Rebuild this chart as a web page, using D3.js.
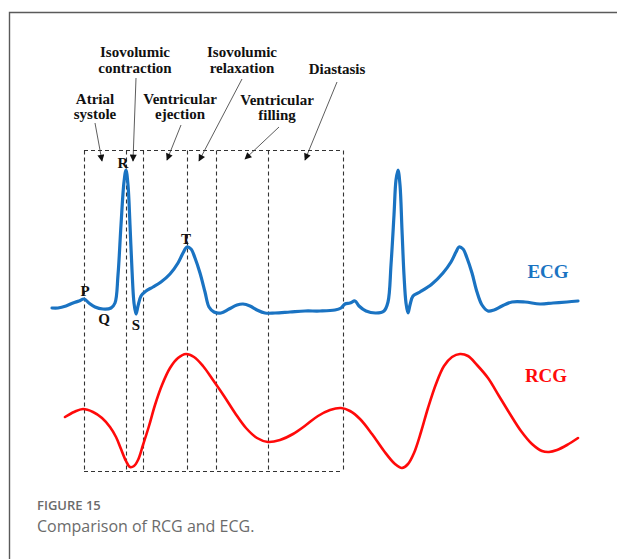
<!DOCTYPE html>
<html>
<head>
<meta charset="utf-8">
<script src="https://cdn.jsdelivr.net/npm/d3@7/dist/d3.min.js"></script>
<style>
  html, body { margin: 0; padding: 0; background: #fff; }
  svg { display: block; }
</style>
</head>
<body>
<svg id="chart" width="617" height="559"></svg>
<script>
// Time axis in ms, ECG in mV, RCG in arbitrary units
const ecgTime = [0, 18, 42, 63, 81, 96, 111, 129, 153, 177, 189, 198, 207, 216, 222, 228, 234, 240, 246, 252,
  258, 267, 282, 303, 327, 354, 378, 393, 405, 417, 429, 444, 459, 471, 486, 507, 531, 555, 573, 594,
  615, 639, 669, 714, 759, 804, 849, 867, 879, 894, 909, 921, 942, 972, 996, 1008, 1017, 1026, 1032, 1038,
  1044, 1050, 1056, 1062, 1068, 1074, 1083, 1104, 1140, 1173, 1197, 1212, 1221, 1233, 1245, 1260, 1275, 1290, 1308, 1326,
  1350, 1380, 1419, 1464, 1503, 1545, 1578];
const ecgValue = [0.03, 0.03, 0.05, 0.08, 0.10, 0.12, 0.08, 0.04, 0.02, 0.03, 0.08, 0.36, 0.86, 1.29, 1.41, 1.26, 0.86, 0.41, 0.08, -0.03,
  0.05, 0.15, 0.20, 0.24, 0.29, 0.37, 0.48, 0.58, 0.64, 0.62, 0.53, 0.38, 0.19, 0.04, -0.01, -0.02, 0.02, 0.06, 0.07, 0.05,
  0.01, -0.02, -0.02, -0.01, 0, 0, 0.01, 0.03, 0.07, 0.08, 0.10, 0.05, 0, -0.02, 0, 0.09, 0.46, 0.96, 1.31, 1.41,
  1.26, 0.81, 0.36, 0.08, -0.02, 0.06, 0.15, 0.19, 0.27, 0.38, 0.49, 0.59, 0.64, 0.62, 0.53, 0.38, 0.19, 0.06, 0, 0.01,
  0.05, 0.09, 0.09, 0.07, 0.08, 0.09, 0.10];

const rcgTime = [39, 66, 93, 123, 150, 174, 192, 207, 222, 234, 246, 258, 273, 291, 309, 330, 354, 378, 402, 426,
  453, 483, 516, 549, 582, 615, 648, 684, 723, 762, 798, 834, 867, 894, 924, 960, 996, 1029, 1050, 1068,
  1086, 1107, 1128, 1152, 1176, 1200, 1224, 1248, 1275, 1308, 1341, 1374, 1407, 1440, 1470, 1491, 1515, 1545, 1578];
const rcgValue = [-0.07, -0.02, 0.01, -0.02, -0.08, -0.17, -0.27, -0.39, -0.51, -0.57, -0.56, -0.50, -0.35, -0.16, 0.05, 0.25, 0.42, 0.52, 0.56, 0.53,
  0.44, 0.30, 0.14, -0.03, -0.18, -0.28, -0.32, -0.30, -0.24, -0.15, -0.06, 0, 0.02, -0.01, -0.09, -0.24, -0.41, -0.54, -0.58, -0.54,
  -0.43, -0.22, 0.02, 0.26, 0.44, 0.53, 0.56, 0.54, 0.45, 0.32, 0.14, -0.04, -0.21, -0.34, -0.41, -0.42, -0.40, -0.35, -0.28];

// Cardiac phase boundaries (ms) and phase names
const phaseBounds = [96, 222, 273, 405, 492, 648, 873];
const phaseNames = [
  ["Atrial", "systole"],
  ["Isovolumic", "contraction"],
  ["Ventricular", "ejection"],
  ["Isovolumic", "relaxation"],
  ["Ventricular", "filling"],
  ["Diastasis"]
];
// Time of the ECG wave each letter marks
const waveNames = ["P", "Q", "R", "S", "T"];
const waveTimes = [96, 153, 222, 252, 405];

const svg = d3.select("#chart");

const x = d3.scaleLinear().domain([0, 1578]).range([52, 578]);
const yE = d3.scaleLinear().domain([0, 1.41]).range([311, 170]);
const yR = d3.scaleLinear().domain([-0.6, 0.6]).range([470, 350]);

// outer frame
svg.append("path")
  .attr("d", "M9.5,560 V12.5 H618")
  .attr("fill", "none").attr("stroke", "#5a5a5a").attr("stroke-width", 1.4);

// arrowhead marker
svg.append("defs").append("marker")
  .attr("id", "arrowhead")
  .attr("viewBox", "0 0 10 10")
  .attr("refX", 9).attr("refY", 5)
  .attr("markerWidth", 8).attr("markerHeight", 7)
  .attr("markerUnits", "userSpaceOnUse")
  .attr("orient", "auto")
  .append("path").attr("d", "M0,0 L10,5 L0,10 Z").attr("fill", "#111");

// dashed phase boxes
const boxTop = 150.5, boxBottom = 471.5;
const dash = "4,3";
const bx0 = x(phaseBounds[0]), bx1 = x(phaseBounds[phaseBounds.length - 1]);
const boxes = svg.append("g").attr("fill", "none").attr("stroke", "#333").attr("stroke-width", 1.1).attr("stroke-dasharray", dash);
boxes.append("line").attr("x1", bx0).attr("x2", bx1).attr("y1", boxTop).attr("y2", boxTop);
boxes.append("line").attr("x1", bx0).attr("x2", bx1).attr("y1", boxBottom).attr("y2", boxBottom);
boxes.selectAll("line.v").data(phaseBounds).join("line").attr("class", "v")
  .attr("x1", d => Math.round(x(d)) + 0.5).attr("x2", d => Math.round(x(d)) + 0.5)
  .attr("y1", boxTop).attr("y2", boxBottom);

// phase labels: text centre, baselines, arrow start and arrow tip (time)
const labelLayout = [
  { cx: 95,  y: [104, 119], from: [95, 123],  tipT: 150, tipY: 161 },
  { cx: 135, y: [57, 73],   from: [136, 78],  tipT: 243, tipY: 161 },
  { cx: 180, y: [104, 119], from: [181, 125], tipT: 345, tipY: 160 },
  { cx: 242, y: [57, 73],   from: [242, 79],  tipT: 441, tipY: 161 },
  { cx: 277, y: [105, 120], from: [279, 127], tipT: 579, tipY: 159 },
  { cx: 337, y: [74],       from: [337, 82],  tipT: 759, tipY: 160 }
];
const labels = svg.append("g")
  .attr("font-family", "'Liberation Serif', 'Times New Roman', serif")
  .attr("font-weight", "bold").attr("font-size", 15).attr("fill", "#111")
  .attr("text-anchor", "middle");
phaseNames.forEach((lines, i) => {
  const L = labelLayout[i];
  lines.forEach((t, j) => labels.append("text").attr("x", L.cx).attr("y", L.y[j]).text(t));
  svg.append("line")
    .attr("x1", L.from[0]).attr("y1", L.from[1])
    .attr("x2", x(L.tipT)).attr("y2", L.tipY)
    .attr("stroke", "#333").attr("stroke-width", 0.8)
    .attr("marker-end", "url(#arrowhead)");
});

// ECG trace
const ecgData = ecgTime.map((t, i) => [t, ecgValue[i]]);
svg.append("path").datum(ecgData)
  .attr("fill", "none").attr("stroke", "#1a73c2").attr("stroke-width", 3.2)
  .attr("stroke-linejoin", "round").attr("stroke-linecap", "round")
  .attr("d", d3.line().x(d => x(d[0])).y(d => yE(d[1])).curve(d3.curveCatmullRom.alpha(0.5)));

// RCG trace
const rcgData = rcgTime.map((t, i) => [t, rcgValue[i]]);
svg.append("path").datum(rcgData)
  .attr("fill", "none").attr("stroke", "#ff0a0a").attr("stroke-width", 2.6)
  .attr("stroke-linejoin", "round").attr("stroke-linecap", "round")
  .attr("d", d3.line().x(d => x(d[0])).y(d => yR(d[1])).curve(d3.curveCatmullRom.alpha(0.5)));

// wave letters, offset from their point on the ECG trace
const waveOffset = { P: [1, -3], Q: [1, 15], R: [-3, -2], S: [0, 16], T: [-1, -3] };
const waveG = svg.append("g")
  .attr("font-family", "'Liberation Serif', 'Times New Roman', serif")
  .attr("font-weight", "bold").attr("font-size", 15).attr("fill", "#111")
  .attr("text-anchor", "middle");
waveNames.forEach((n, i) => {
  const t = waveTimes[i];
  const v = ecgValue[ecgTime.indexOf(t)];
  const o = waveOffset[n];
  waveG.append("text").attr("x", x(t) + o[0]).attr("y", yE(v) + o[1]).text(n);
});

// series names
svg.append("text").attr("x", 548).attr("y", 278)
  .attr("font-family", "'Liberation Serif', 'Times New Roman', serif").attr("font-weight", "bold")
  .attr("font-size", 19).attr("fill", "#1a73c2").attr("text-anchor", "middle").text("ECG");
svg.append("text").attr("x", 546).attr("y", 382)
  .attr("font-family", "'Liberation Serif', 'Times New Roman', serif").attr("font-weight", "bold")
  .attr("font-size", 19).attr("fill", "#ff0a0a").attr("text-anchor", "middle").text("RCG");

// caption
svg.append("text").attr("x", 37).attr("y", 510)
  .attr("font-family", "'Open Sans', sans-serif").attr("font-weight", 600)
  .attr("font-size", 13).attr("fill", "#6b6b6b").text("FIGURE 15");
svg.append("text").attr("x", 37).attr("y", 532)
  .attr("font-family", "'Open Sans', sans-serif").attr("font-weight", 400)
  .attr("font-size", 16).attr("fill", "#6b6b6b").text("Comparison of RCG and ECG.");
</script>
</body>
</html>
